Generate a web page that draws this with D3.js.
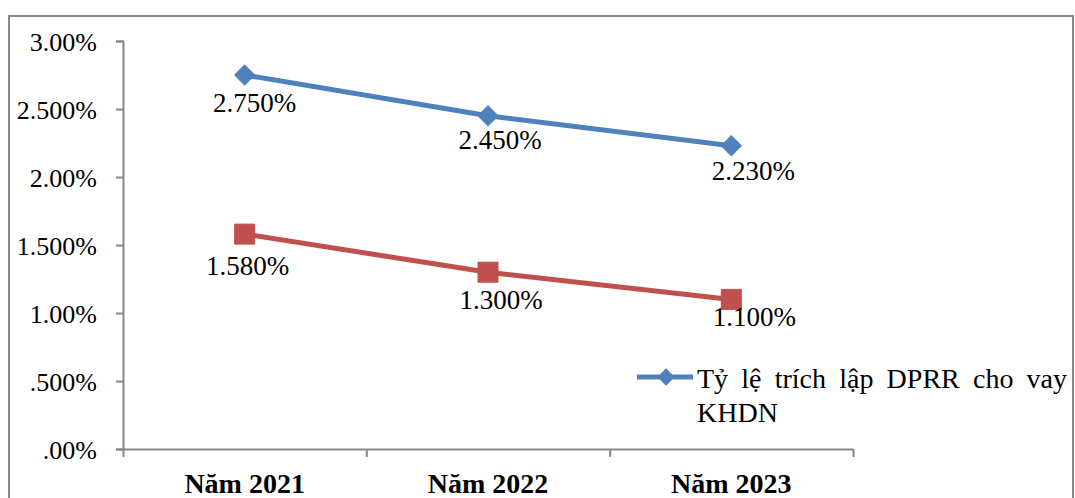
<!DOCTYPE html>
<html>
<head>
<meta charset="utf-8">
<script src="https://cdn.jsdelivr.net/npm/d3@7"></script>
<style>
  html, body { margin: 0; padding: 0; background: #fff; }
  svg { display: block; }
  text { font-family: "Liberation Serif", "Times New Roman", serif; fill: #000; }
</style>
</head>
<body>
<svg id="chart" width="1075" height="498"></svg>
<script>
// Years on the category axis
const categories = ["Năm 2021", "Năm 2022", "Năm 2023"];
// Provisioning ratio for corporate loans (%)
const khdnValues = [2.75, 2.45, 2.23];
// Second provisioning ratio series (%)
const secondValues = [1.58, 1.30, 1.10];
// Value-axis ticks and their printed labels
const yTickValues = [0, 0.5, 1, 1.5, 2, 2.5, 3];
const yTickLabels = [".00%", ".500%", "1.00%", "1.500%", "2.00%", "2.500%", "3.00%"];
// Printed data labels
const khdnLabels = ["2.750%", "2.450%", "2.230%"];
const secondLabels = ["1.580%", "1.300%", "1.100%"];
const legendText = ["Tỷ lệ trích lập DPRR cho vay", "KHDN"];

// Small per-label nudges so labels sit where the layout placed them
const khdnNudge = [[10, 37], [12, 33], [22, 34]];
const secondNudge = [[3, 41], [13, 37], [23, 27]];

const svg = d3.select("#chart");
const axisColor = "#878787";
const blue = "#4F81BD";
const red = "#C0504D";

// Outer chart frame (bottom edge falls below the visible area)
svg.append("rect")
  .attr("x", 9).attr("y", 16)
  .attr("width", 1064).attr("height", 500)
  .attr("fill", "none").attr("stroke", axisColor).attr("stroke-width", 2);

const plot = { left: 123, right: 853, top: 41, bottom: 449 };

const x = d3.scaleBand().domain(categories).range([plot.left, plot.right]).padding(0);
const y = d3.scaleLinear().domain([0, 3]).range([plot.bottom, plot.top]);

// Value axis
const yAxis = d3.axisLeft(y)
  .tickValues(yTickValues)
  .tickFormat((d, i) => yTickLabels[i])
  .tickSize(7)
  .tickPadding(19);
const gy = svg.append("g").attr("transform", `translate(${plot.left},0)`).call(yAxis);
gy.select(".domain").attr("stroke", axisColor).attr("stroke-width", 2);
gy.selectAll(".tick line").attr("stroke", axisColor).attr("stroke-width", 2);
gy.selectAll(".tick text")
  .attr("font-size", 26)
  .attr("font-family", "Liberation Serif, serif")
  .attr("fill", "#000")
  .attr("dy", "0.35em");

// Category axis: ticks sit on band boundaries
const xAxisLine = d3.axisBottom(d3.scaleLinear().domain([0, categories.length]).range([plot.left, plot.right]))
  .tickValues(d3.range(categories.length + 1))
  .tickFormat("")
  .tickSize(8)
  .tickSizeOuter(0);
const gx = svg.append("g").attr("transform", `translate(0,${plot.bottom})`).call(xAxisLine);
gx.select(".domain").attr("stroke", axisColor).attr("stroke-width", 2);
gx.selectAll(".tick line").attr("stroke", axisColor).attr("stroke-width", 2);

svg.append("g").selectAll("text")
  .data(categories)
  .join("text")
  .attr("x", d => x(d) + x.bandwidth() / 2)
  .attr("y", 493)
  .attr("text-anchor", "middle")
  .attr("font-size", 28)
  .attr("font-weight", "bold")
  .text(d => d);

const line = d3.line()
  .x((d, i) => x(categories[i]) + x.bandwidth() / 2)
  .y(d => y(d));

function drawSeries(values, color, shape, labels, nudge) {
  const g = svg.append("g");
  g.append("path")
    .datum(values)
    .attr("d", line)
    .attr("fill", "none")
    .attr("stroke", color)
    .attr("stroke-width", 5)
    .attr("stroke-linejoin", "round");
  const sym = shape === "diamond"
    ? d3.symbol().type(d3.symbolSquare).size(200)
    : d3.symbol().type(d3.symbolSquare).size(400);
  g.selectAll("path.marker")
    .data(values)
    .join("path")
    .attr("class", "marker")
    .attr("d", sym)
    .attr("transform", (d, i) => {
      const cx = x(categories[i]) + x.bandwidth() / 2;
      return `translate(${cx},${y(d)})` + (shape === "diamond" ? " rotate(45)" : "");
    })
    .attr("fill", color)
    .attr("stroke", color)
    .attr("stroke-width", 1);
  g.selectAll("text")
    .data(values)
    .join("text")
    .attr("x", (d, i) => x(categories[i]) + x.bandwidth() / 2 + nudge[i][0])
    .attr("y", (d, i) => y(d) + nudge[i][1])
    .attr("text-anchor", "middle")
    .attr("font-size", 27)
    .text((d, i) => labels[i]);
}

drawSeries(khdnValues, blue, "diamond", khdnLabels, khdnNudge);
drawSeries(secondValues, red, "square", secondLabels, secondNudge);

// Legend
const lg = svg.append("g");
lg.append("line")
  .attr("x1", 637).attr("x2", 693)
  .attr("y1", 377).attr("y2", 377)
  .attr("stroke", blue).attr("stroke-width", 5);
lg.append("path")
  .attr("d", d3.symbol().type(d3.symbolSquare).size(150))
  .attr("transform", "translate(666,377) rotate(45)")
  .attr("fill", blue);

// First legend line is justified across the available width
const first = lg.append("text")
  .attr("x", 697).attr("y", 388)
  .attr("font-size", 28)
  .text(legendText[0]);
const natural = first.node().getComputedTextLength();
const gaps = legendText[0].split(" ").length - 1;
const target = 1067 - 697;
first.attr("word-spacing", Math.max(0, (target - natural) / gaps));

lg.append("text")
  .attr("x", 697).attr("y", 422)
  .attr("font-size", 28)
  .text(legendText[1]);
</script>
</body>
</html>
